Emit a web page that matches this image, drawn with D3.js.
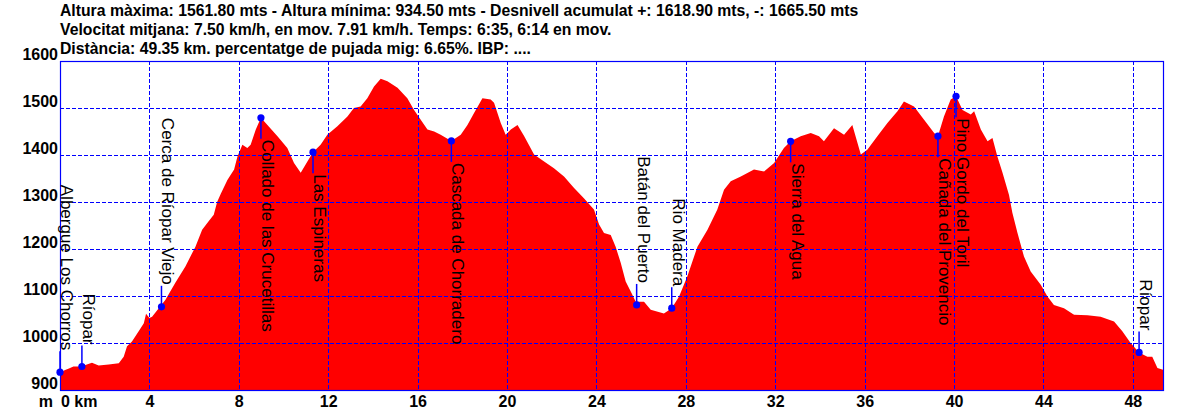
<!DOCTYPE html>
<html>
<head>
<meta charset="utf-8">
<script src="https://cdn.jsdelivr.net/npm/d3@7"></script>
<style>
body{margin:0;background:#fff;}
svg{display:block;}
text{font-family:"Liberation Sans",Arial,sans-serif;}
</style>
</head>
<body>
<svg width="1192" height="410"></svg>
<script>
var header_lines = [
    "Altura màxima: 1561.80 mts - Altura mínima: 934.50 mts - Desnivell acumulat +: 1618.90 mts, -: 1665.50 mts",
    "Velocitat mitjana: 7.50 km/h, en mov. 7.91 km/h. Temps: 6:35, 6:14 en mov.",
    "Distància: 49.35 km. percentatge de pujada mig: 6.65%. IBP: ...."
];

// profile, km / metres
var dist_km = [0.00, 0.20, 0.40, 0.60, 0.98, 1.20, 1.43, 1.73, 2.18, 2.63, 2.85, 3.00, 3.22, 3.52, 3.75, 3.85, 4.00, 4.12, 4.42, 4.72,
    5.16, 5.61, 6.06, 6.36, 6.65, 6.88, 7.03, 7.20, 7.49, 7.79, 7.94, 8.16, 8.38, 8.53, 8.76, 8.99, 9.28, 9.73, 10.17, 10.47,
    10.77, 11.07, 11.32, 11.66, 11.96, 12.41, 12.86, 13.15, 13.45, 13.75, 14.05, 14.35, 14.65, 15.10, 15.54, 15.84, 16.14, 16.44, 16.74, 17.03,
    17.51, 17.93, 18.23, 18.52, 18.90, 19.27, 19.42, 19.72, 19.94, 20.17, 20.47, 20.77, 21.21, 21.66, 22.10, 22.55, 23.00, 23.44, 23.89, 24.12,
    24.34, 24.64, 24.86, 25.09, 25.31, 25.53, 25.76, 26.13, 26.43, 27.02, 27.37, 27.70, 28.07, 28.52, 28.97, 29.41, 29.71, 30.01, 30.46, 31.05,
    31.50, 31.95, 32.39, 32.69, 33.14, 33.59, 33.96, 34.18, 34.63, 35.08, 35.45, 35.83, 36.12, 36.57, 37.02, 37.47, 37.76, 38.21, 38.66, 39.11,
    39.28, 39.55, 39.85, 40.09, 40.38, 40.75, 40.90, 41.20, 41.50, 41.72, 41.94, 42.17, 42.46, 42.61, 42.84, 43.13, 43.43, 43.88, 44.18, 44.47,
    44.92, 45.37, 45.97, 46.56, 47.16, 47.53, 47.90, 48.28, 48.65, 48.87, 49.10, 49.35];
var alt_m = [935, 942, 946, 950, 950, 954, 958, 952, 954, 957, 971, 993, 1003, 1025, 1042, 1062, 1053, 1056, 1074, 1092,
    1128, 1163, 1205, 1241, 1259, 1273, 1300, 1318, 1347, 1369, 1397, 1422, 1415, 1422, 1454, 1479, 1464, 1440, 1415, 1383,
    1362, 1386, 1406, 1422, 1443, 1461, 1482, 1500, 1503, 1521, 1546, 1562, 1557, 1543, 1521, 1496, 1475, 1454, 1450, 1443,
    1430, 1443, 1464, 1489, 1521, 1518, 1511, 1468, 1443, 1454, 1464, 1440, 1401, 1386, 1372, 1354, 1330, 1308, 1284, 1252,
    1234, 1230, 1205, 1170, 1131, 1110, 1088, 1088, 1071, 1063, 1074, 1099, 1142, 1205, 1241, 1284, 1326, 1344, 1354, 1369,
    1365, 1383, 1415, 1429, 1440, 1447, 1440, 1429, 1457, 1443, 1464, 1401, 1411, 1440, 1468, 1493, 1514, 1503, 1475, 1447,
    1440, 1482, 1518, 1525, 1496, 1486, 1493, 1454, 1429, 1436, 1397, 1362, 1315, 1277, 1234, 1184, 1152, 1124, 1099, 1081,
    1074, 1060, 1059, 1056, 1046, 1025, 1000, 980, 971, 971, 947, 943];

// waypoints
var wp_names = ["Albergue Los Chorros", "Ríopar", "Cerca de Ríopar Viejo", "Collado de las Crucetillas", "Las Espineras",
    "Cascada de Chorradero", "Batán del Puerto", "Rio Madera", "Sierra del Agua", "Cañada del Provencio",
    "Pino Gordo del Toril", "Ríopar"];
var wp_km = [0.00, 0.98, 4.54, 8.99, 11.32, 17.51, 25.80, 27.37, 32.69, 39.28, 40.09, 48.28];
var wp_alt = [938, 950, 1077, 1479, 1406, 1430, 1081, 1074, 1429, 1440, 1525, 980];

var x_ticks = [4, 8, 12, 16, 20, 24, 28, 32, 36, 40, 44, 48];
var y_ticks = [900, 1000, 1100, 1200, 1300, 1400, 1500, 1600];

var svg = d3.select("svg");
var x = d3.scaleLinear().domain([0, 49.35]).range([60, 1163]);
var y = d3.scaleLinear().domain([900, 1600]).range([390, 61]);
var _blue = "#0000ff";
var _bold_px = "15.75px";

var profile = dist_km.map(function (d, i) { return [d, alt_m[i]]; });

svg.append("path")
    .datum(profile)
    .attr("fill", "#ff0000")
    .attr("d", d3.area()
        .x(function (d) { return x(d[0]); })
        .y0(y(900))
        .y1(function (d) { return y(d[1]); }));

// grid
var grid = svg.append("g")
    .attr("stroke", _blue)
    .attr("stroke-width", 1)
    .attr("stroke-dasharray", "4,2")
    .attr("shape-rendering", "crispEdges");
grid.selectAll(".gx").data(x_ticks).enter().append("line")
    .attr("x1", function (d) { return Math.round(x(d)) + 0.5; })
    .attr("x2", function (d) { return Math.round(x(d)) + 0.5; })
    .attr("y1", y(1600)).attr("y2", y(900));
grid.selectAll(".gy").data(y_ticks.slice(1, -1)).enter().append("line")
    .attr("y1", function (d) { return Math.round(y(d)) + 0.5; })
    .attr("y2", function (d) { return Math.round(y(d)) + 0.5; })
    .attr("x1", x(0)).attr("x2", x(49.35));

svg.append("rect")
    .attr("x", x(0) + 0.5).attr("y", y(1600) + 0.5)
    .attr("width", x(49.35) - x(0)).attr("height", y(900) - y(1600))
    .attr("fill", "none").attr("stroke", _blue).attr("stroke-width", 1.2);

// axes, labels only
var yAxis = svg.append("g")
    .attr("transform", "translate(" + x(0) + ",0)")
    .call(d3.axisLeft(y).tickValues(y_ticks).tickFormat(d3.format("d")).tickSize(0).tickPadding(2));
var xAxis = svg.append("g")
    .attr("transform", "translate(0," + y(900) + ")")
    .call(d3.axisBottom(x).tickValues(x_ticks).tickFormat(d3.format("d")).tickSize(0));
[yAxis, xAxis].forEach(function (a) {
    a.select(".domain").remove();
    a.selectAll("text")
        .attr("fill", "#000")
        .style("font-size", "16px")
        .style("font-weight", "bold")
        .style("font-family", "'Liberation Sans', Arial, sans-serif");
});
yAxis.selectAll("text").attr("dy", "-1.5");
xAxis.selectAll("text").attr("y", 17).attr("dy", 0);

svg.append("text").attr("x", 53).attr("y", 407)
    .attr("text-anchor", "end").style("font-size", "16px").style("font-weight", "bold")
    .text("m");
svg.append("text").attr("x", x(0) + 1).attr("y", 407)
    .style("font-size", "16px").style("font-weight", "bold")
    .text("0 km");

// waypoints
var _gap = 22;
wp_names.forEach(function (name, i) {
    var _x = x(wp_km[i]);
    var _y = y(wp_alt[i]);
    var _below = wp_alt[i] > 1250;
    var _ty = _below ? _y + _gap : _y - _gap;
    var g = svg.append("g");
    g.append("line")
        .attr("x1", _x).attr("x2", _x)
        .attr("y1", _y).attr("y2", _below ? _ty - 1 : _ty + 1)
        .attr("stroke", _blue).attr("stroke-width", 1.5);
    g.append("circle")
        .attr("cx", _x).attr("cy", _y).attr("r", 3.6)
        .attr("fill", _blue);
    g.append("text")
        .attr("transform", "translate(" + (_x + 1) + "," + _ty + ") rotate(90)")
        .attr("text-anchor", _below ? "start" : "end")
        .attr("fill", "#000")
        .style("font-size", "17px")
        .text(name);
});

// header
svg.selectAll(".hdr").data(header_lines).enter().append("text")
    .attr("x", 60)
    .attr("y", function (d, i) { return 16 + i * 19; })
    .style("font-size", _bold_px)
    .style("font-weight", "bold")
    .text(function (d) { return d; });
</script>
</body>
</html>
